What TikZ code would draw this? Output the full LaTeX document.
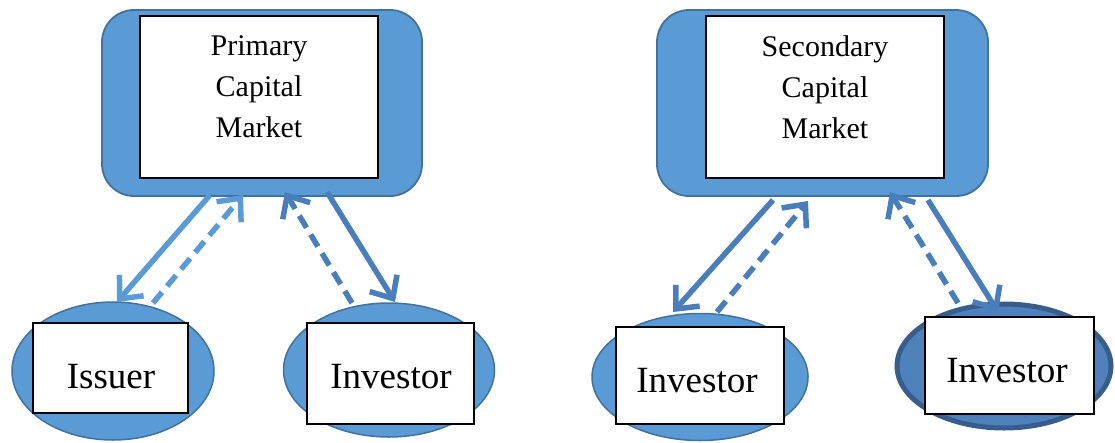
\documentclass[tikz,border=0pt]{standalone}
\usepackage{fontspec}
\setmainfont{Liberation Serif}
\usetikzlibrary{shapes.geometric,arrows.meta}
\definecolor{fillblue}{HTML}{5B9BD5}
\definecolor{edgeblue}{HTML}{41719C}
\definecolor{arrowlight}{HTML}{5B9BD5}
\definecolor{arrowdark}{HTML}{4A7EBB}
\definecolor{darkfill}{HTML}{4F81BD}
\definecolor{darkedge}{HTML}{385D8A}
\tikzset{
  outerbox/.style={draw=edgeblue, line width=1.8pt, fill=fillblue, rounded corners=32pt, inner sep=0pt},
  innerbox/.style={draw=black, line width=2.4pt, fill=white, inner sep=0pt},
  titletext/.style={anchor=north, align=center, inner sep=0pt, font=\fontsize{30}{41}\selectfont},
  oval/.style={ellipse, draw=edgeblue, line width=1.5pt, fill=fillblue, inner sep=0pt},
  darkoval/.style={ellipse, draw=darkedge, line width=5pt, fill=darkfill, inner sep=0pt},
  labelbox/.style={draw=black, line width=2.4pt, fill=white, inner sep=0pt},
  labeltext/.style={anchor=base, inner sep=0pt, font=\fontsize{37}{40}\selectfont},
  flow/.style={line width=5.5pt, -{Straight Barb[length=18pt,width=32pt,line width=5.5pt]}},
  flowdash/.style={flow, dash pattern=on 14pt off 8pt},
}
\begin{document}
\begin{tikzpicture}[x=1pt,y=-1pt]
\useasboundingbox (0,0) rectangle (1115,442);

% Primary market
\node[outerbox, minimum width=320pt, minimum height=186pt] (pouter) at (262,103) {};
\node[innerbox, minimum width=238pt, minimum height=162pt] (pinner) at (259,97) {};
\node[titletext] (ptext) at (259,35.5) {Primary\\Capital\\Market};

% Secondary market
\node[outerbox, minimum width=331pt, minimum height=186pt] (souter) at (822.5,103) {};
\node[innerbox, minimum width=238pt, minimum height=162pt] (sinner) at (825,97) {};
\node[titletext] (stext) at (825,35.5) {Secondary\\Capital\\Market};

% Issuer
\node[oval, minimum width=202pt, minimum height=138pt] (issuerO) at (113,371) {};
\node[labelbox, minimum width=155pt, minimum height=90pt] (issuerB) at (110.5,368) {};
\node[labeltext] (issuerT) at (111,388) {Issuer};

% Investor (primary)
\node[oval, minimum width=211pt, minimum height=134pt] (inv1O) at (389,370) {};
\node[labelbox, minimum width=167pt, minimum height=101pt] (inv1B) at (390.5,373.5) {};
\node[labeltext] (inv1T) at (391,388) {Investor};

% Investor (secondary, left)
\node[oval, minimum width=216pt, minimum height=127pt] (inv2O) at (700,377) {};
\node[labelbox, minimum width=168pt, minimum height=97pt] (inv2B) at (700,375.5) {};
\node[labeltext] (inv2T) at (697,392) {Investor};

% Investor (secondary, right)
\node[darkoval, minimum width=214pt, minimum height=124pt] (inv3O) at (1004,366) {};
\node[labelbox, minimum width=169pt, minimum height=97pt] (inv3B) at (1009.5,365.5) {};
\node[labeltext] (inv3T) at (1007,382) {Investor};

% arrow end points
\coordinate (p1s) at (210,195); \coordinate (p1e) at (117,302);
\coordinate (p2s) at (153,303); \coordinate (p2e) at (243,195);
\coordinate (p3s) at (352,303); \coordinate (p3e) at (285,192);
\coordinate (p4s) at (327,192); \coordinate (p4e) at (395,302);
\coordinate (s1s) at (773,200); \coordinate (s1e) at (673,312);
\coordinate (s2s) at (717,312); \coordinate (s2e) at (808,201);
\coordinate (s3s) at (958,303); \coordinate (s3e) at (890,192);
\coordinate (s4s) at (928,200); \coordinate (s4e) at (998,312);

\draw[flow, arrowlight] (p1s) -- (p1e);
\draw[flowdash, arrowlight] (p2s) -- (p2e);
\draw[flowdash, arrowdark] (p3s) -- (p3e);
\draw[flow, arrowdark] (p4s) -- (p4e);
\draw[flow, arrowdark] (s1s) -- (s1e);
\draw[flowdash, arrowdark] (s2s) -- (s2e);
\draw[flowdash, arrowdark] (s3s) -- (s3e);
\draw[flow, arrowdark] (s4s) -- (s4e);
\end{tikzpicture}
\end{document}
